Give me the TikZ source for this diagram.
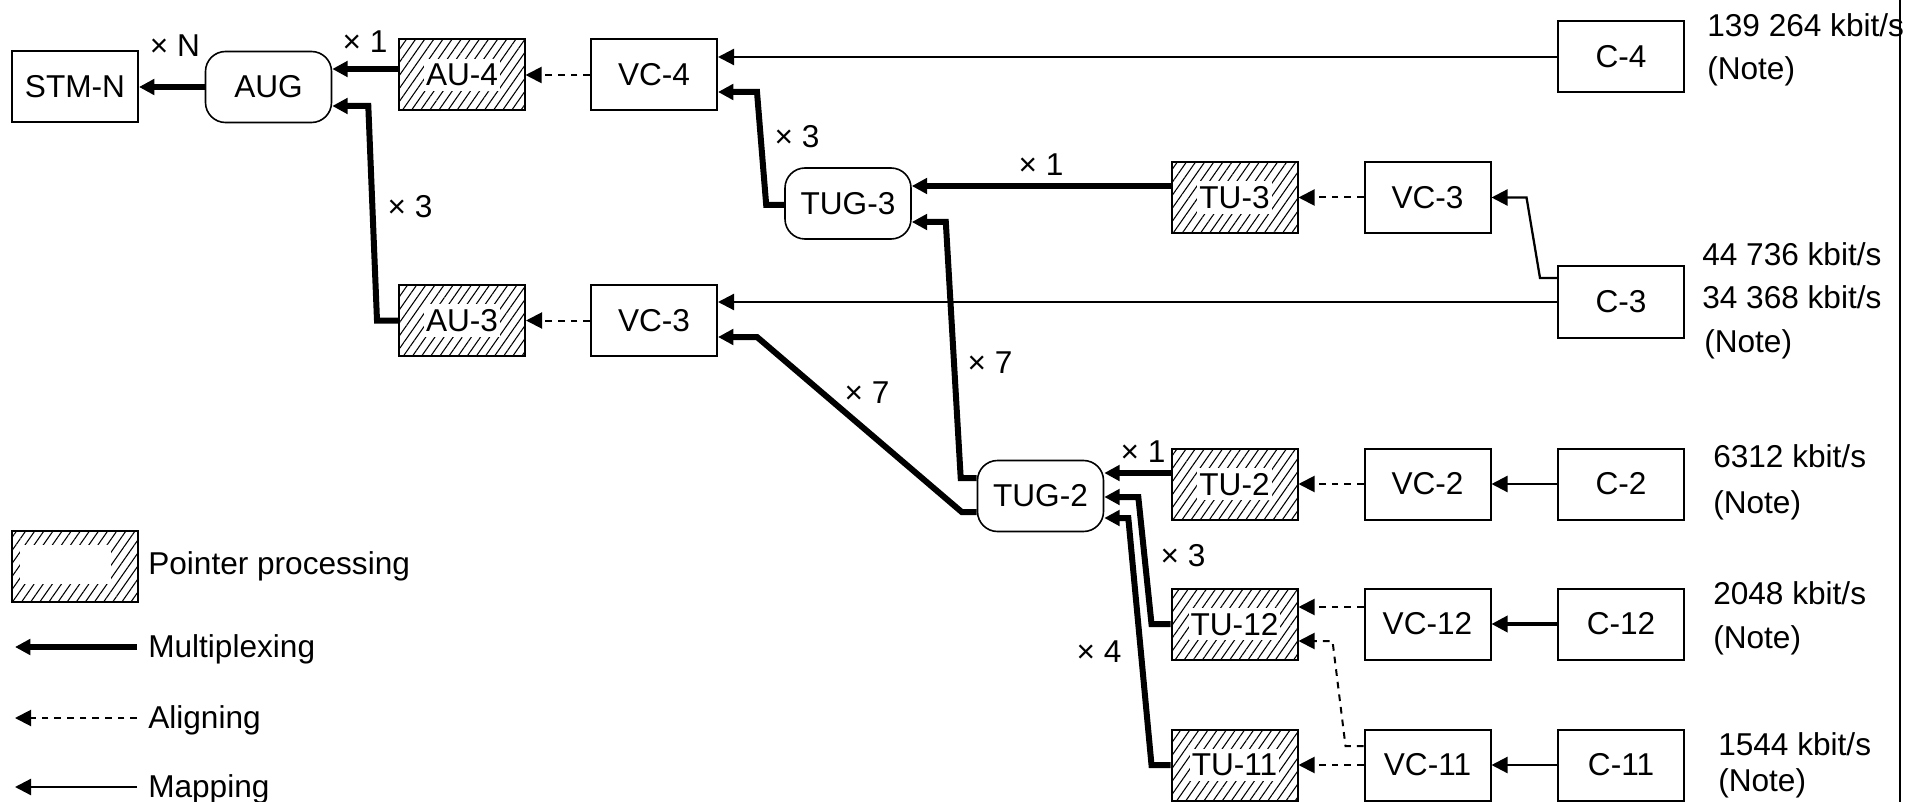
\documentclass[tikz,border=0pt]{standalone}
\usepackage{fontspec}
\setmainfont{Liberation Sans}
\usetikzlibrary{arrows.meta,patterns.meta,calc}
\begin{document}
\begin{tikzpicture}[x=0.75pt,y=-0.75pt,
  font=\fontsize{23.7}{28}\selectfont,
  box/.style={draw,line width=1.5pt,minimum width=94.5pt,minimum height=53.25pt,inner sep=0pt},
  rbox/.style={box,rounded corners=15pt,line width=1.2pt},
  hbox/.style={box,pattern={Lines[angle=55,distance=5.6pt,line width=0.8pt]}},
  htext/.style={fill=white,inner xsep=1.5pt,inner ysep=4pt,text depth=0pt},
  mux/.style={line width=4.5pt,-{Triangle[length=11.5pt,width=11.5pt]}},
  aln/.style={line width=1.5pt,dash pattern=on 5pt off 4.5pt,-{Triangle[length=12pt,width=12pt]}},
  mapl/.style={line width=1.7pt,-{Triangle[length=12pt,width=12pt]}},
  lab/.style={inner sep=0pt},
  rt/.style={anchor=base west,inner sep=0pt}
]
\useasboundingbox (0,0) rectangle (1923,802);
\fill[white] (0,0) rectangle (1923,802);

% boxes
\node[box]  (stm)  at (75,87)     {STM-N};
\node[rbox] (aug)  at (268.5,87)  {AUG};
\node[hbox] (au4)  at (462,75)    {};
\node[htext] (au4t) at (au4) {AU-4};
\node[box]  (vc4)  at (654,75)    {VC-4};
\node[box]  (c4)   at (1621,57)   {C-4};
\node[rbox] (tug3) at (848,203.5) {TUG-3};
\node[hbox] (tu3)  at (1234.5,197.5) {};
\node[htext] (tu3t) at (tu3) {TU-3};
\node[box]  (vc3a) at (1427.5,197.5) {VC-3};
\node[box]  (c3)   at (1621,302)  {C-3};
\node[hbox] (au3)  at (462,320.5) {};
\node[htext] (au3t) at (au3) {AU-3};
\node[box]  (vc3b) at (654,320.5) {VC-3};
\node[rbox] (tug2) at (1040.5,496) {TUG-2};
\node[hbox] (tu2)  at (1234.5,484) {};
\node[htext] (tu2t) at (tu2) {TU-2};
\node[box]  (vc2)  at (1427.5,484) {VC-2};
\node[box]  (c2)   at (1621,484)  {C-2};
\node[hbox] (tu12) at (1234.5,624) {};
\node[htext] (tu12t) at (tu12) {TU-12};
\node[box]  (vc12) at (1427.5,624) {VC-12};
\node[box]  (c12)  at (1621,624)  {C-12};
\node[hbox] (tu11) at (1234.5,765) {};
\node[htext] (tu11t) at (tu11) {TU-11};
\node[box]  (vc11) at (1427.5,765) {VC-11};
\node[box]  (c11)  at (1621,765)  {C-11};

% multiplexing
\draw[mux] (aug.west) -- (stm.east);
\draw[mux] ($(au4.west)+(0,-6)$) -- ($(aug.east)+(0,-18)$);
\draw[mux] (au3.west) -- ++(-21,0) -- ($(aug.east)+(36,19)$) -- ($(aug.east)+(0,19)$);
\draw[mux] ($(tug3.west)+(0,1.5)$) -- ++(-18,0) -- ($(vc4.east)+(39,17)$) -- ($(vc4.east)+(0,17)$);
\coordinate (ta) at ($(tu3.west)+(0,-11.5)$);
\draw[mux] (ta) -- (ta -| tug3.east);
\draw[mux] ($(tug2.west)+(0,-18)$) -- ++(-16,0) -- ($(tug3.east)+(34,18.5)$) -- ($(tug3.east)+(0,18.5)$);
\draw[mux] ($(tug2.west)+(0,16)$) -- ++(-15,0) -- ($(vc3b.east)+(39,16.5)$) -- ($(vc3b.east)+(0,16.5)$);
\coordinate (tb) at ($(tu2.west)+(0,-11)$);
\draw[mux] (tb) -- (tb -| tug2.east);
\draw[mux] (tu12.west) -- ++(-19,0) -- ($(tug2.east)+(34,1)$) -- ($(tug2.east)+(0,1)$);
\draw[mux] (tu11.west) -- ++(-19,0) -- ($(tug2.east)+(24,22)$) -- ($(tug2.east)+(0,22)$);

% aligning
\draw[aln] (vc4.west) -- (au4.east);
\draw[aln] (vc3b.west) -- (au3.east);
\draw[aln] (vc3a.west) -- (tu3.east);
\draw[aln] (vc2.west) -- (tu2.east);
\draw[aln] ($(vc12.west)+(0,-17)$) -- ($(tu12.east)+(0,-17)$);
\draw[aln] ($(vc11.west)+(0,-19)$) -- ++(-18,0) -- ($(tu12.east)+(34,17)$) -- ($(tu12.east)+(0,17)$);
\draw[aln] (vc11.west) -- (tu11.east);

% mapping
\draw[mapl] (c4.west) -- ($(vc4.east)+(0,-18)$);
\draw[mapl] ($(c3.west)+(0,-24)$) -- ++(-17,0) -- ($(vc3a.east)+(35,0)$) -- (vc3a.east);
\draw[mapl] (c3.west) -- ($(vc3b.east)+(0,-18.5)$);
\draw[mapl] (c2.west) -- (vc2.east);
\draw[mapl,line width=2.6pt] (c12.west) -- (vc12.east);
\draw[mapl] (c11.west) -- (vc11.east);

% multiplicity labels
\node[lab] (l1) at (175,46)  {× N};
\node[lab] (l2) at (365,42)  {× 1};
\node[lab] (l3) at (410,207) {× 3};
\node[lab] (l4) at (797,137) {× 3};
\node[lab] (l5) at (1041,165) {× 1};
\node[lab] (l6) at (990,363) {× 7};
\node[lab] (l7) at (867,393) {× 7};
\node[lab] (l8) at (1143,452) {× 1};
\node[lab] (l9) at (1183,556) {× 3};
\node[lab] (l10) at (1099,652) {× 4};

% rates
\node[rt] (r1)  at (1707,37)  {139 264 kbit/s};
\node[rt] (r2)  at (1707,80)  {(Note)};
\node[rt] (r3)  at (1702,266) {44 736 kbit/s};
\node[rt] (r4)  at (1702,308) {34 368 kbit/s};
\node[rt] (r5)  at (1704,352) {(Note)};
\node[rt] (r6)  at (1713,467) {6312 kbit/s};
\node[rt] (r7)  at (1713,513) {(Note)};
\node[rt] (r8)  at (1713,604) {2048 kbit/s};
\node[rt] (r9)  at (1713,648) {(Note)};
\node[rt] (r10) at (1718,755) {1544 kbit/s};
\node[rt] (r11) at (1718,791) {(Note)};

% right rule
\coordinate (vt) at (1900,0);
\coordinate (vb) at (1900,802);
\draw[line width=1.5pt] (vt) -- (vb);

% legend
\node[hbox] (lgbox) at (74.5,566.5) {};
\node[fill=white,inner sep=0pt,minimum width=68.25pt,minimum height=29.25pt] (lgin) at (65.5,564.5) {};
\node[rt] (lg1) at (148,574) {Pointer processing};
\coordinate (m1) at (137,647);
\coordinate (m2) at (15,647);
\draw[mux] (m1) -- (m2);
\node[rt] (lg2) at (148,657) {Multiplexing};
\coordinate (a1) at (137,718);
\coordinate (a2) at (15,718);
\draw[aln] (a1) -- (a2);
\node[rt] (lg3) at (148,728) {Aligning};
\coordinate (p1) at (137,787);
\coordinate (p2) at (15,787);
\draw[mapl] (p1) -- (p2);
\node[rt] (lg4) at (148,797) {Mapping};
\end{tikzpicture}
\end{document}
